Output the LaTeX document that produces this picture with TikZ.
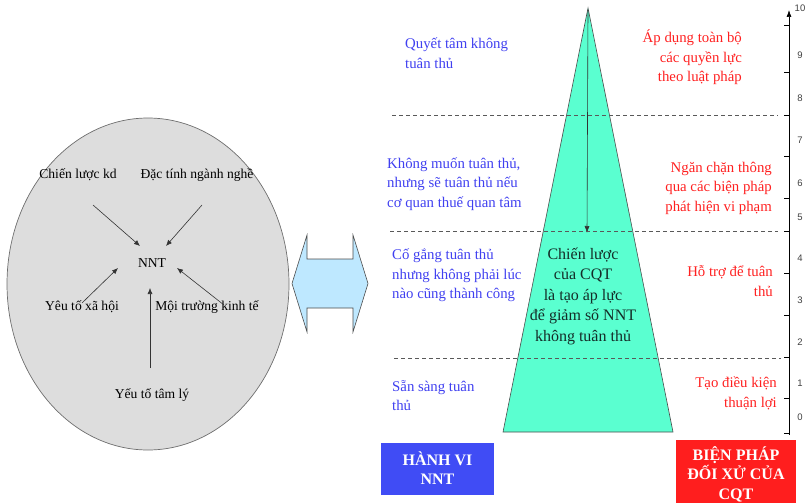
\documentclass[tikz,border=0pt]{standalone}
\usepackage{fontspec}
\setmainfont{Liberation Serif}
\newfontfamily\axisfont{Liberation Sans}
\usetikzlibrary{arrows.meta}
\definecolor{ovalfill}{RGB}{221,221,221}
\definecolor{ovaledge}{RGB}{110,110,110}
\definecolor{arrowfill}{RGB}{190,232,255}
\definecolor{pyrfill}{RGB}{90,255,208}
\definecolor{taxblue}{RGB}{64,64,240}
\definecolor{taxred}{RGB}{255,32,32}
\definecolor{boxblue}{RGB}{64,76,245}
\definecolor{boxred}{RGB}{255,30,30}
\definecolor{centertext}{RGB}{20,45,40}
\tikzset{
  factor/.style={font=\fontsize{13.6}{15}\selectfont, inner sep=0pt, text=black},
  pull/.style={-{Latex[length=6pt,width=5pt]}, line width=0.6pt, draw=black!80},
  behaviour/.style={font=\fontsize{14.8}{19.5}\selectfont, text=taxblue, align=left, anchor=west, inner sep=0pt},
  measure/.style={font=\fontsize{14.8}{19.5}\selectfont, text=taxred, align=right, anchor=east, inner sep=0pt},
  levelline/.style={dashed, dash pattern=on 4pt off 3pt, draw=black!65, line width=0.7pt},
  headbox/.style={font=\bfseries\fontsize{16}{19.5}\selectfont, text=white, align=center, inner sep=0pt},
  ticklabel/.style={font=\axisfont\fontsize{9.5}{10}\selectfont, text=black!75, inner sep=0pt}
}
\begin{document}
\begin{tikzpicture}[x=1pt,y=-1pt]
\useasboundingbox (0,0) rectangle (808,503);

% ---- factors acting on the taxpayer ----
\draw[fill=ovalfill, draw=ovaledge, line width=0.7pt] (148,284) ellipse [x radius=141, y radius=166];
\node[factor] (nnt) at (152,263) {NNT};
\node[factor] (cl) at (78,175) {Chiến lược kd};
\node[factor] (dt) at (197,175) {Đặc tính ngành nghề};
\node[factor] (xh) at (82,307) {Yêu tố xã hội};
\node[factor] (mt) at (207,307) {Mội trường kinh tế};
\node[factor] (tl) at (152,395) {Yếu tố tâm lý};
\coordinate (clA) at (93,205);  \coordinate (clB) at (140,246);
\coordinate (dtA) at (202,205); \coordinate (dtB) at (166,246);
\coordinate (xhA) at (82,303);  \coordinate (xhB) at (118,268);
\coordinate (mtA) at (224,305); \coordinate (mtB) at (177,268);
\coordinate (tlA) at (150,368); \coordinate (tlB) at (150,288);
\draw[pull] (clA) -- (clB);
\draw[pull] (dtA) -- (dtB);
\draw[pull] (xhA) -- (xhB);
\draw[pull] (mtA) -- (mtB);
\draw[pull] (tlA) -- (tlB);

% ---- two-way block arrow ----
\draw[fill=arrowfill, draw=black!70, line width=0.6pt]
  (292,283.5) -- (307,235) -- (307,259) -- (353,259) -- (353,235) -- (368,283.5)
  -- (353,332) -- (353,308) -- (307,308) -- (307,332) -- cycle;

% ---- compliance pyramid ----
\coordinate (apex) at (588,8);
\coordinate (baseL) at (503,432);
\coordinate (baseR) at (673,432);
\draw[fill=pyrfill, draw=black!70, line width=0.6pt] (apex) -- (baseR) -- (baseL) -- cycle;
\coordinate (push) at (587,233);
\draw[-{Latex[length=7pt,width=5pt]}, line width=0.6pt, draw=black!80] (588,10) -- (push);

% ---- level separators ----
\coordinate (l1a) at (392,115); \coordinate (l1b) at (778,115);
\coordinate (l2a) at (390,231); \coordinate (l2b) at (778,231);
\coordinate (l3a) at (394,358); \coordinate (l3b) at (781,358);
\draw[levelline] (l1a) -- (l1b);
\draw[levelline] (l2a) -- (l2b);
\draw[levelline] (l3a) -- (l3b);

\node[font=\fontsize{16}{20.5}\selectfont, text=centertext, align=center, inner sep=0pt] (strategy) at (583,296)
  {Chiến lược\\của CQT\\là tạo áp lực\\để giảm số NNT\\không tuân thủ};

% ---- taxpayer behaviour ----
\node[behaviour] (b1) at (405,53) {Quyết tâm không\\tuân thủ};
\node[behaviour] (b2) at (387,184) {Không muốn tuân thủ,\\nhưng sẽ tuân thủ nếu\\cơ quan thuế quan tâm};
\node[behaviour] (b3) at (392,275.5) {Cố gắng tuân thủ\\nhưng không phải lúc\\nào cũng thành công};
\node[behaviour] (b4) at (392,395.5) {Sẵn sàng tuân\\thủ};

% ---- authority response ----
\node[measure] (m1) at (742,57.5) {Áp dụng toàn bộ\\các quyền lực\\theo luật pháp};
\node[measure] (m2) at (772,188) {Ngăn chặn thông\\qua các biện pháp\\phát hiện vi phạm};
\node[measure] (m3) at (773,281) {Hỗ trợ để tuân\\thủ};
\node[measure] (m4) at (777,393.5) {Tạo điều kiện\\thuận lợi};

% ---- headings ----
\fill[boxblue] (381,443) rectangle (494,495);
\node[headbox] (hv) at (437.5,468) {HÀNH VI\\NNT};
\fill[boxred] (676,440) rectangle (796,503);
\node[headbox, anchor=north] (bp) at (736,446) {BIỆN PHÁP\\ĐỐI XỬ CỦA\\CQT};

% ---- scale ----
\coordinate (axB) at (789,435);
\coordinate (axT) at (789,10);
\draw[-{Latex[length=7pt,width=5pt]}, line width=0.7pt] (axB) -- (axT);
\foreach \t in {25,72,115,156,198,231,273,315,357,398,433}
  \draw[line width=0.6pt] (784,\t) -- (789,\t);
\foreach \v/\y in {10/8,9/55,8/98,7/140,6/183,5/217,4/258,3/300,2/342,1/383,0/417}
  \node[ticklabel] at (800,\y) {\v};
\end{tikzpicture}
\end{document}
